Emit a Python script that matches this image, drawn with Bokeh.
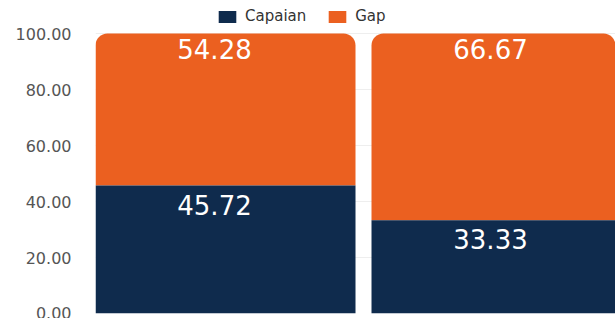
from bokeh.plotting import figure
from bokeh.models import ColumnDataSource, Legend, LegendItem, NumeralTickFormatter, FixedTicker, Range1d, LabelSet
from bokeh.core.properties import value
from bokeh.embed import file_html
from bokeh.resources import INLINE

categories = ["A", "B"]
capaian = [45.72, 33.33]
gap = [54.28, 66.67]
yticks = [0, 20, 40, 60, 80, 100]

NAVY = "#0f2b4d"
ORANGE = "#eb6020"

xs = list(range(len(categories)))
src = ColumnDataSource(dict(
    x=xs, cap=capaian, gap=gap,
    total=[c + g for c, g in zip(capaian, gap)],
    cap_lbl=[f"{v:.2f}" for v in capaian],
    gap_lbl=[f"{v:.2f}" for v in gap],
))

p = figure(width=615, height=318, output_backend="svg", toolbar_location=None,
           x_range=Range1d(-0.471, 1.413), y_range=Range1d(0, 111.8),
           min_border_left=95, min_border_right=0, min_border_top=0, min_border_bottom=5)
p.outline_line_color = None
p.background_fill_color = "white"

r_gap = p.vbar(x="x", bottom="cap", top="total", width=0.942, source=src,
               fill_color=ORANGE, line_color=None, border_radius=(12, 12, 0, 0))
r_cap = p.vbar(x="x", bottom=0, top="cap", width=0.942, source=src,
               fill_color=NAVY, line_color=None)

font = "DejaVu Sans"
p.add_layout(LabelSet(x="x", y="total", text="gap_lbl", source=src, text_align="center",
                      text_baseline="top", y_offset=-5, x_offset=-11, text_color="white",
                      text_font_size="26px", text_font=value(font)))
p.add_layout(LabelSet(x="x", y="cap", text="cap_lbl", source=src, text_align="center",
                      text_baseline="top", y_offset=-9, x_offset=-11, text_color="white",
                      text_font_size="26px", text_font=value(font)))

p.xaxis.visible = False
p.xgrid.visible = False
p.ygrid.grid_line_color = "#eeeeee"
p.yaxis.ticker = FixedTicker(ticks=yticks)
p.yaxis.formatter = NumeralTickFormatter(format="0.00")
p.yaxis.axis_line_color = None
p.yaxis.major_tick_line_color = None
p.yaxis.minor_tick_line_color = None
p.yaxis.major_label_text_font = font
p.yaxis.major_label_text_font_size = "16px"
p.yaxis.major_label_text_color = "#555555"
p.yaxis.major_label_standoff = 18

legend = Legend(items=[LegendItem(label="Capaian", renderers=[r_cap]),
                       LegendItem(label="Gap", renderers=[r_gap])],
                orientation="horizontal", location=(121, 288),
                label_text_font=font, label_text_font_size="15px", label_text_color="#333333",
                glyph_width=22, glyph_height=15, label_height=15, label_standoff=7,
                spacing=20, padding=0, margin=0,
                border_line_color=None, background_fill_alpha=0)
p.add_layout(legend, "center")

open("out.html", "w").write(file_html(p, INLINE))
